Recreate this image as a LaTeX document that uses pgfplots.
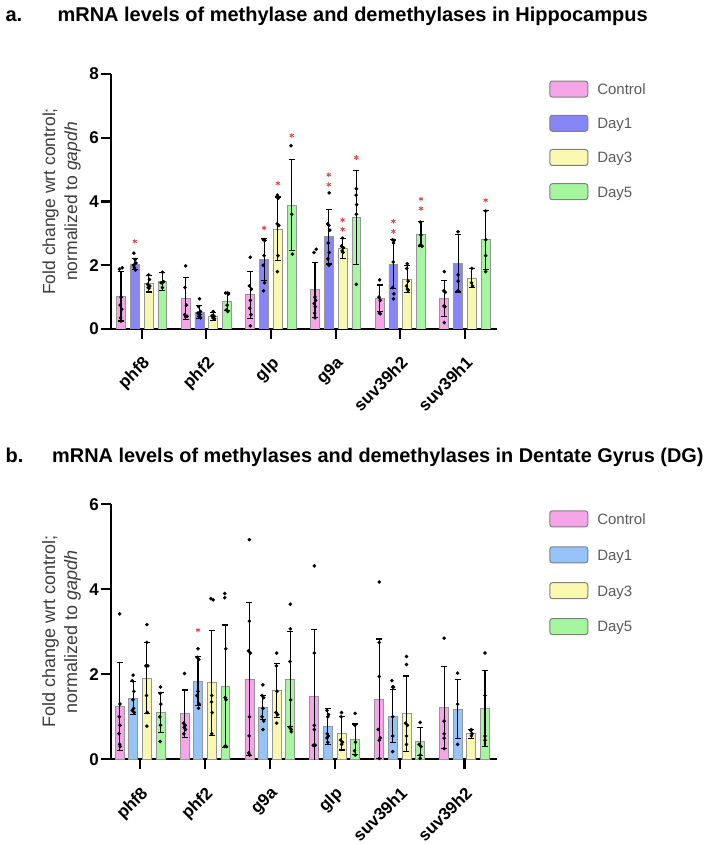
\documentclass[border=0pt]{standalone}
\usepackage{fontspec}
\setmainfont{Liberation Sans}
\usepackage{pgfplots}
\usepackage{pgfplotstable}
\pgfplotsset{compat=1.18}

\definecolor{cpink}{RGB}{246,166,232}
\definecolor{cviolet}{RGB}{134,134,248}
\definecolor{csky}{RGB}{150,196,248}
\definecolor{cyellow}{RGB}{248,248,176}
\definecolor{cgreen}{RGB}{166,246,160}
\definecolor{edgegray}{RGB}{150,150,150}
\definecolor{legtext}{RGB}{90,90,90}
\definecolor{labgray}{RGB}{60,60,60}
\definecolor{starred}{RGB}{222,70,70}

% mean and SD per gene (x = gene index)
\pgfplotstableread{
x c cE d1 d1E d3 d3E d5 d5E
0 1.03 0.78 2.04 0.18 1.42 0.26 1.50 0.28
1 0.96 0.66 0.53 0.20 0.40 0.12 0.86 0.27
2 1.07 0.73 2.17 0.66 3.14 1.00 3.88 1.43
3 1.23 0.87 2.90 0.86 2.53 0.32 3.49 1.47
4 0.96 0.42 2.03 0.77 1.57 0.42 2.97 0.39
5 0.96 0.57 2.06 0.90 1.60 0.31 2.80 0.92
}\hippo
\pgfplotstableread{
x c cE d1 d1E d3 d3E d5 d5E
0 1.24 1.04 1.44 0.39 1.91 0.83 1.11 0.47
1 1.07 0.56 1.84 0.57 1.80 1.24 1.72 1.44
2 1.89 1.80 1.22 0.28 1.62 0.64 1.89 1.11
3 1.49 1.57 0.77 0.42 0.61 0.39 0.47 0.36
4 1.42 1.41 1.02 0.63 1.07 0.89 0.42 0.33
5 1.22 0.96 1.18 0.70 0.60 0.10 1.20 0.90
}\dentate

\pgfplotsset{
  panel/.style={
    scale only axis, width=386pt, height=255pt,
    axis lines=left,
    axis line style={line width=2.2pt, -},
    tick style={line width=2.2pt, black},
    tick align=outside,
    major tick length=10pt,
    ymin=0,
    xtick={0,1,2,3,4,5},
    /pgf/number format/assume math mode=true,
    tick label style={font=\fontsize{17}{20}\selectfont\bfseries},
    xticklabel style={rotate=45, anchor=north east, inner sep=0pt, xshift=-11.6pt, yshift=-11.4pt},
    yticklabel style={inner sep=2pt},
    ylabel style={at={(axis description cs:-0.128,0.5)}, anchor=center,
      align=center, font=\fontsize{17.5}{22}\selectfont, text=labgray},
    legend style={anchor=north west, draw=none, fill=none, inner sep=0pt,
      row sep=17.2pt, font=\fontsize{15}{18}\selectfont, text=legtext,
      nodes={inner xsep=9pt, inner ysep=0pt}},
    legend cell align=left,
    legend image code/.code={\draw[#1, rounded corners=2.5pt] (0pt,-7pt) rectangle (38pt,9pt);},
    error bars/error bar style={line width=1.1pt, black},
    error bars/error mark options={line width=1.1pt, black, mark size=3pt, rotate=90},
  },
  bars/.style={ybar, bar width=0.138, bar shift=0pt, draw=edgegray, line width=0.8pt, forget plot},
  dots/.style={only marks, mark=*, mark size=1.6pt, black, forget plot},
  stars/.style={only marks, mark=asterisk, mark size=2.4pt, starred, line width=0.8pt, forget plot},
  legbox/.style={fill=#1, draw=edgegray!85!black, line width=1pt},
}

\begin{document}
\begin{tikzpicture}
\path[use as bounding box] (0pt,0pt) rectangle (708pt,844pt);

\node[anchor=base west, font=\fontsize{20}{24}\selectfont\bfseries] at (2pt,822pt) {a.};
\node[anchor=base west, font=\fontsize{20}{24}\selectfont\bfseries] at (54pt,822pt) {mRNA levels of methylase and demethylases in Hippocampus};
\node[anchor=base west, font=\fontsize{20}{24}\selectfont\bfseries] at (2pt,381pt) {b.};
\node[anchor=base west, inner xsep=0pt, font=\fontsize{19.9}{24}\selectfont\bfseries] at (52pt,381pt) {mRNA levels of methylases and demethylases in Dentate Gyrus (DG)};

% ---------------- Hippocampus ----------------
\begin{axis}[panel, at={(111pt,515pt)}, anchor=south west,
  xmin=-0.475, xmax=5.495, ymax=8, ytick={0,2,4,6,8},
  xticklabels={phf8,phf2,glp,g9a,suv39h2,suv39h1},
  ylabel={Fold change wrt control;\\normalized to \textit{gapdh}},
  legend style={at={(axis description cs:1.135,0.975)}}]
\addplot[bars, fill=cpink, error bars/.cd, y dir=both, y explicit] table[x expr=\thisrow{x}-0.32, y=c, y error=cE] {\hippo};
\addplot[bars, fill=cviolet, error bars/.cd, y dir=both, y explicit] table[x expr=\thisrow{x}-0.107, y=d1, y error=d1E] {\hippo};
\addplot[bars, fill=cyellow, error bars/.cd, y dir=both, y explicit] table[x expr=\thisrow{x}+0.107, y=d3, y error=d3E] {\hippo};
\addplot[bars, fill=cgreen, error bars/.cd, y dir=both, y explicit] table[x expr=\thisrow{x}+0.32, y=d5, y error=d5E] {\hippo};
% individual animals
\addplot[dots] coordinates {
 (-0.345,1.88) (-0.30,1.92) (-0.32,1.0) (-0.335,0.75) (-0.31,0.62) (-0.325,0.35) (-0.32,0.25)
 (-0.12,2.38) (-0.10,2.18) (-0.09,2.07) (-0.125,2.0) (-0.11,1.92) (-0.095,1.85)
 (0.107,1.7) (0.09,1.4) (0.125,1.35) (0.10,1.3) (0.115,1.28) (0.12,1.55)
 (0.32,1.78) (0.30,1.45) (0.34,1.48) (0.32,1.3)
 (0.68,1.98) (0.67,1.3) (0.69,0.75) (0.665,0.45) (0.70,0.40) (0.68,0.38)
 (0.893,0.95) (0.88,0.7) (0.91,0.55) (0.87,0.5) (0.90,0.45) (0.885,0.40) (0.91,0.35)
 (1.107,0.55) (1.09,0.42) (1.12,0.4) (1.10,0.35) (1.125,0.32)
 (1.30,1.13) (1.33,1.13) (1.345,1.1) (1.32,0.75) (1.31,0.6) (1.33,0.55)
 (1.68,2.25) (1.665,1.35) (1.695,1.25) (1.68,0.9) (1.67,0.65) (1.69,0.45) (1.68,0.1)
 (1.88,2.8) (1.905,2.78) (1.893,2.3) (1.88,2.0) (1.90,1.45) (1.885,1.2)
 (2.10,4.2) (2.11,4.1) (2.095,3.3) (2.12,3.25) (2.107,2.3) (2.10,1.8)
 (2.31,5.75) (2.32,3.6) (2.33,2.35)
 (2.665,2.4) (2.70,2.5) (2.68,1.0) (2.69,0.9) (2.67,0.8) (2.685,0.7) (2.675,0.5) (2.68,0.35)
 (2.90,4.27) (2.875,3.3) (2.895,3.25) (2.91,3.1) (2.885,2.7) (2.90,2.4) (2.88,2.2) (2.895,2.0)
 (3.107,2.85) (3.09,2.6) (3.12,2.55) (3.10,2.45) (3.115,2.4)
 (3.32,4.4) (3.315,4.2) (3.325,3.9) (3.32,3.6) (3.32,1.4)
 (3.68,1.54) (3.67,1.0) (3.69,0.9) (3.675,0.5) (3.69,0.48)
 (3.88,2.8) (3.905,2.78) (3.895,2.7) (3.89,2.1) (3.88,1.3) (3.90,1.1) (3.895,0.95)
 (4.107,2.05) (4.10,1.9) (4.12,1.5) (4.095,1.35) (4.11,1.25) (4.125,1.22)
 (4.31,3.35) (4.32,2.95) (4.30,2.62) (4.335,2.6)
 (4.68,1.8) (4.67,1.2) (4.695,1.15) (4.675,0.72) (4.69,0.7) (4.68,0.2)
 (4.893,3.05) (4.893,1.7) (4.893,1.5) (4.893,1.2)
 (5.107,1.9) (5.10,1.45) (5.115,1.35)
 (5.32,3.7) (5.32,2.8) (5.32,2.3) (5.32,1.8)
};
% significance
\addplot[stars] coordinates {
 (-0.107,2.75) (1.893,3.17) (2.107,4.57) (2.32,6.07)
 (2.893,4.53) (2.893,4.84) (3.107,3.13) (3.107,3.42) (3.32,5.38)
 (3.893,3.06) (3.893,3.38) (4.32,3.78) (4.32,4.08) (5.32,4.04)
};
\addlegendimage{legbox=cpink}\addlegendentry{Control}
\addlegendimage{legbox=cviolet}\addlegendentry{Day1}
\addlegendimage{legbox=cyellow}\addlegendentry{Day3}
\addlegendimage{legbox=cgreen}\addlegendentry{Day5}
\end{axis}

% ---------------- Dentate gyrus ----------------
\begin{axis}[panel, at={(111pt,84.7pt)}, anchor=south west,
  xmin=-0.448, xmax=5.50, ymax=6, ytick={0,2,4,6},
  xticklabels={phf8,phf2,g9a,glp,suv39h1,suv39h2},
  ylabel={Fold change wrt control;\\normalized to \textit{gapdh}},
  ylabel style={font=\fontsize{18}{22}\selectfont},
  legend style={at={(axis description cs:1.135,0.977)}, row sep=18.9pt}]
\addplot[bars, fill=cpink, error bars/.cd, y dir=both, y explicit] table[x expr=\thisrow{x}-0.315, y=c, y error=cE] {\dentate};
\addplot[bars, fill=csky, error bars/.cd, y dir=both, y explicit] table[x expr=\thisrow{x}-0.107, y=d1, y error=d1E] {\dentate};
\addplot[bars, fill=cyellow, error bars/.cd, y dir=both, y explicit] table[x expr=\thisrow{x}+0.105, y=d3, y error=d3E] {\dentate};
\addplot[bars, fill=cgreen, error bars/.cd, y dir=both, y explicit] table[x expr=\thisrow{x}+0.315, y=d5, y error=d5E] {\dentate};
\addplot[dots] coordinates {
 (-0.315,3.42) (-0.31,1.3) (-0.32,1.0) (-0.31,0.8) (-0.325,0.6) (-0.315,0.35) (-0.305,0.3)
 (-0.107,1.98) (-0.12,1.85) (-0.095,1.6) (-0.11,1.4) (-0.10,1.2) (-0.12,1.15) (-0.09,1.1)
 (0.105,3.17) (0.105,2.75) (0.09,2.2) (0.12,2.2) (0.10,1.5) (0.11,1.1) (0.105,0.78)
 (0.315,1.7) (0.31,1.55) (0.32,1.3) (0.305,1.0) (0.315,0.8) (0.31,0.42)
 (0.685,2.02) (0.67,0.85) (0.695,0.8) (0.68,0.75) (0.70,0.7) (0.675,0.6)
 (0.893,2.6) (0.88,2.4) (0.905,2.35) (0.893,1.6) (0.875,1.5) (0.91,1.3) (0.90,1.2)
 (1.09,3.78) (1.125,3.75) (1.105,1.5) (1.10,1.35) (1.11,1.1) (1.105,0.6)
 (1.305,3.9) (1.305,3.8) (1.32,2.6) (1.31,1.45) (1.325,1.4) (1.305,0.3) (1.33,0.3)
 (1.685,5.17) (1.685,3.25) (1.67,2.55) (1.70,2.5) (1.685,1.0) (1.68,0.55) (1.675,0.15) (1.69,0.1)
 (1.893,1.75) (1.88,1.5) (1.905,1.45) (1.893,1.2) (1.88,1.0) (1.905,0.9) (1.893,0.7)
 (2.105,2.5) (2.10,2.2) (2.11,1.6) (2.095,1.1) (2.12,1.05) (2.105,0.85)
 (2.315,3.65) (2.315,3.07) (2.31,2.3) (2.32,1.4) (2.305,0.75) (2.33,0.7) (2.33,0.65)
 (2.685,4.55) (2.685,2.5) (2.685,0.8) (2.685,0.7) (2.67,0.33) (2.70,0.33)
 (2.88,1.15) (2.905,1.05) (2.893,1.0) (2.885,0.6) (2.90,0.55) (2.88,0.5) (2.893,0.4)
 (3.105,1.1) (3.10,1.0) (3.09,0.45) (3.12,0.4) (3.105,0.35)
 (3.315,1.08) (3.31,0.8) (3.32,0.4) (3.305,0.2) (3.315,0.1)
 (3.685,4.17) (3.685,2.75) (3.685,1.95) (3.67,0.7) (3.70,0.5) (3.685,0.45) (3.685,0.02)
 (3.88,1.85) (3.905,1.7) (3.893,1.7) (3.893,1.0) (3.893,0.55) (3.893,0.18)
 (4.105,2.42) (4.105,2.23) (4.09,0.85) (4.12,0.8) (4.105,0.55) (4.105,0.35)
 (4.315,0.87) (4.30,0.35) (4.33,0.3) (4.315,0.1) (4.315,0.02)
 (4.685,2.85) (4.685,0.9) (4.685,0.6) (4.685,0.5) (4.685,0.25)
 (4.893,2.03) (4.893,1.3) (4.893,0.35)
 (5.105,0.7) (5.095,0.68) (5.115,0.6) (5.105,0.55)
 (5.315,2.5) (5.315,1.5) (5.315,0.55) (5.315,0.45)
};
\addplot[stars] coordinates {(0.893,3.04)};
\addlegendimage{legbox=cpink}\addlegendentry{Control}
\addlegendimage{legbox=csky}\addlegendentry{Day1}
\addlegendimage{legbox=cyellow}\addlegendentry{Day3}
\addlegendimage{legbox=cgreen}\addlegendentry{Day5}
\end{axis}
\end{tikzpicture}
\end{document}
